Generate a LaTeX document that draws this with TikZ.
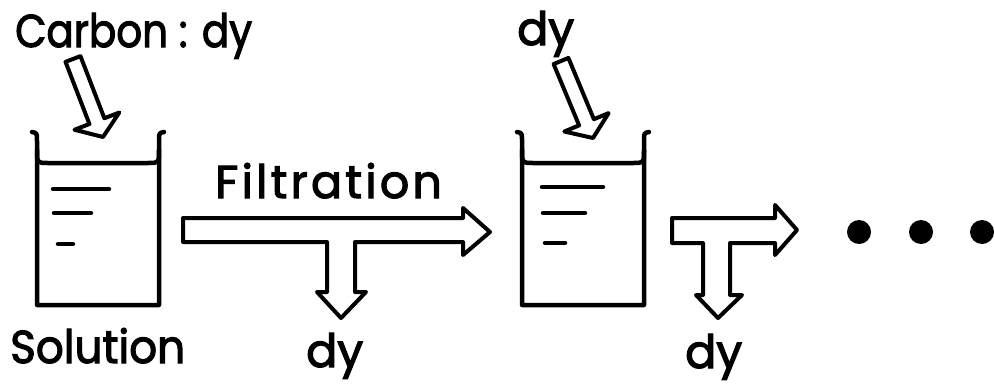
\documentclass[tikz,border=0pt]{standalone}
\usepackage{fontspec}
\setmainfont{Poppins}
\usetikzlibrary{calc}

\tikzset{
  ink/.style={line width=4.5pt, line join=round, line cap=round},
  outline/.style={line width=4pt, line join=round, line cap=round},
  lbl/.style={inner sep=0pt, anchor=base west,
    font=\fontsize{46}{50}\selectfont\addfontfeature{FakeBold=2.5}},
  bigdot/.style={fill, circle, minimum size=24pt, inner sep=0pt},
  % beaker with curled lip; origin at the top of the left wall
  beaker/.pic={
    \draw[ink] (-5,-3) .. controls (0,-2) .. (0,6) -- (0,170) -- (122,170)
               -- (122,6) .. controls (122,-2) .. (127,-3);
    \draw[ink] (0,15) .. controls (0,28) .. (11,28) -- (111,28)
               .. controls (122,28) .. (122,15);
  },
}

% block arrow: #1 tail, #2 tip, #3 half shaft width, #4 half head width, #5 head length
\newcommand{\blkarrow}[5]{%
  \path ($(#2)!#5!(#1)$) coordinate (hb);
  \draw[outline]
    ($(#1)!#3!90:(#2)$) -- ($(hb)!#3!90:(#2)$) -- ($(hb)!#4!90:(#2)$)
    -- (#2) -- ($(hb)!#4!-90:(#2)$) -- ($(hb)!#3!-90:(#2)$)
    -- ($(#1)!#3!-90:(#2)$) -- cycle;
}

\begin{document}
\begin{tikzpicture}[x=1pt,y=-1pt]
\useasboundingbox (0,0) rectangle (995,383);

% labels
\node[lbl] (carbon) at (15,47) {\scalebox{0.88}[1]{Carbon : dy}};
\node[lbl] (solution) at (10,363) {\scalebox{0.95}[1]{Solution}};
\node[lbl] (filtr) at (215,198) {\addfontfeature{LetterSpace=7}Filtration};
\node[lbl] (dyA) at (517,45) {dy};
\node[lbl] (dyB) at (306,367) {dy};
\node[lbl] (dyC) at (685,368) {dy};

% beakers
\pic at (37,135) {beaker};
\pic at (522,135) {beaker};

% liquid marks
\draw[ink] (53,189) -- (109,189) (54,213) -- (91,213) (58,244) -- (73,244);
\draw[ink] (542,187) -- (603,187) (543,213) -- (585,213) (545,243) -- (565,243);

% dosing arrows into the beakers
\coordinate (t1) at (73,59);
\coordinate (p1) at (103,137);
\blkarrow{t1}{p1}{8pt}{24pt}{17pt}
\coordinate (t2) at (561,61);
\coordinate (p2) at (593,138);
\blkarrow{t2}{p2}{8pt}{24pt}{17pt}

% filtration T-arrow
\draw[outline] (183,218) -- (463,218) -- (463,208) -- (490,232)
  -- (463,255) -- (463,242) -- (355,242) -- (355,292) -- (366,292) -- (341,318)
  -- (317,292) -- (327,292) -- (327,242) -- (183,242) -- cycle;

% second T-arrow
\draw[outline] (672,218) -- (775,218) -- (775,205) -- (797,230)
  -- (775,255) -- (775,243) -- (730,243) -- (730,295) -- (742,295) -- (718,318)
  -- (696,295) -- (703,295) -- (703,243) -- (672,243) -- cycle;

% continuation dots
\node[bigdot] (d1) at (859,232) {};
\node[bigdot] (d2) at (921,232) {};
\node[bigdot] (d3) at (982,232) {};
\end{tikzpicture}
\end{document}
